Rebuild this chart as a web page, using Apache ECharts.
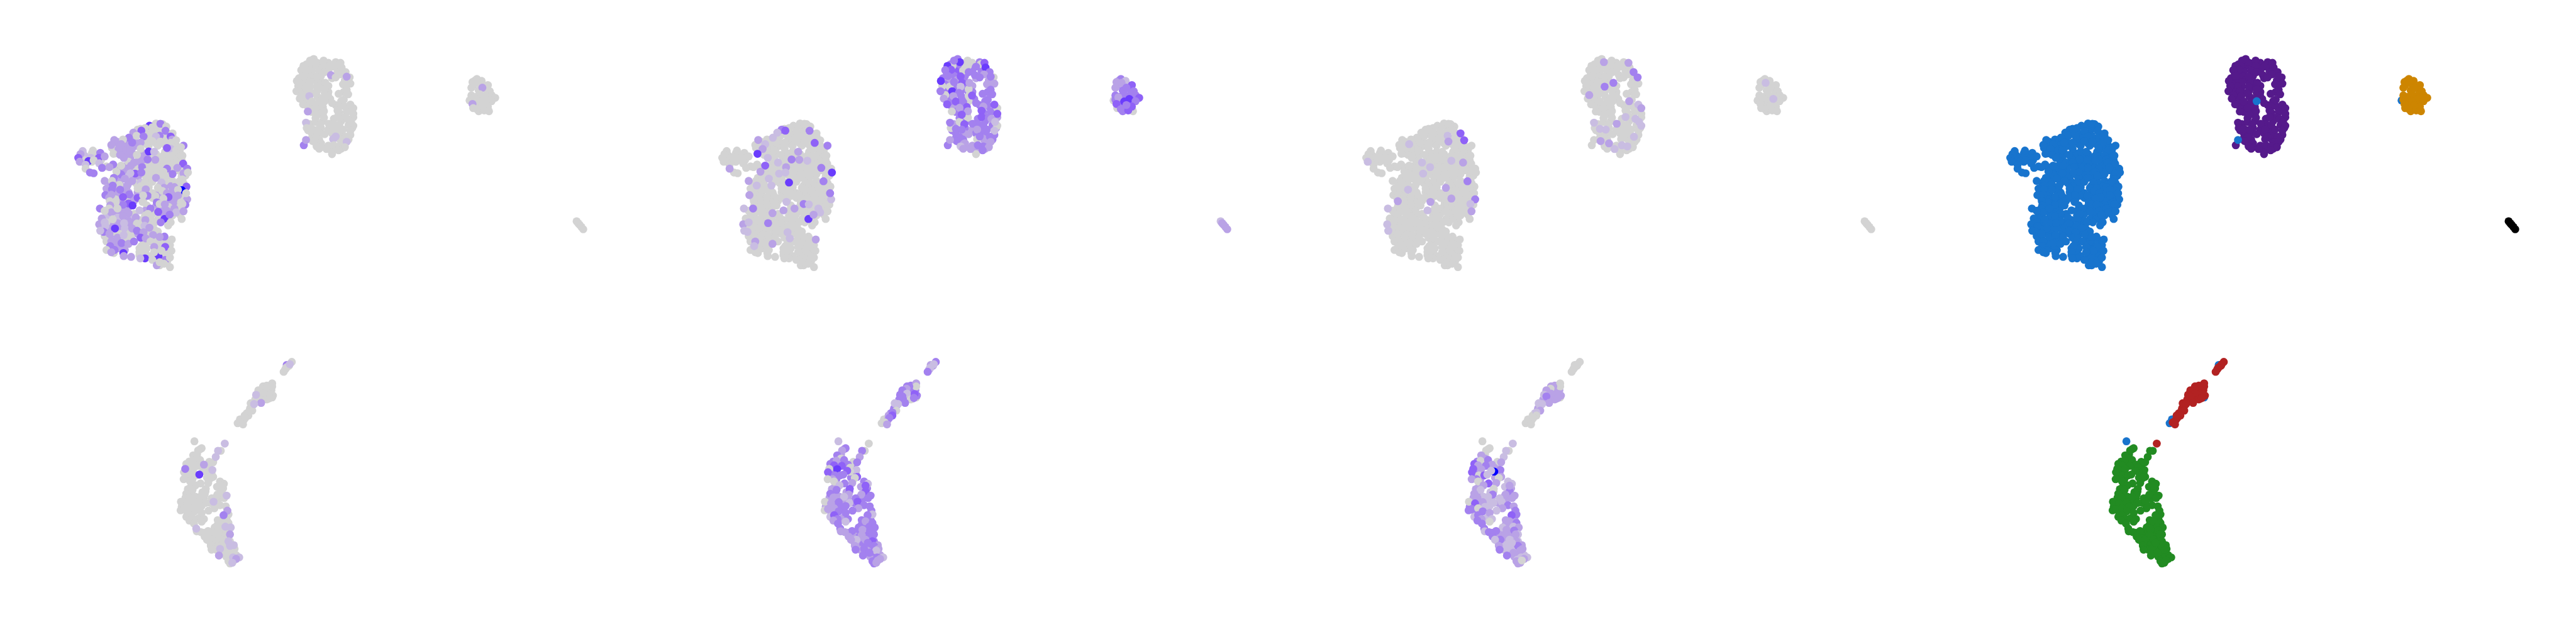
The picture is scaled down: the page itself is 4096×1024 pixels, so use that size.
<!DOCTYPE html>
<html><head><meta charset="utf-8">
<style>html,body{margin:0;padding:0;background:#fff}#c{width:4096px;height:1024px}</style>
<script src="https://cdn.jsdelivr.net/npm/echarts@6/dist/echarts.min.js"></script>
</head><body><div id="c"></div>
<script>
// Each row: umap x, umap y, gene A, gene B, gene C expression level
const blueUnderDeep=[
[190,640,2,0,0],[220,645,2,0,0],[250,650,2,0,0],[275,640,0,0,0],[300,635,0,0,0],[355,650,0,0,0],[215,705,2,0,0],[235,700,2,0,0],[280,710,1,0,0],[330,710,0,0,0],
[225,725,2,0,0],[265,725,2,0,0],[295,720,0,0,0],[335,725,0,0,0],[360,725,0,0,0],[275,755,2,0,0],[300,760,0,0,0],[335,755,0,0,0],[365,755,0,0,0],[215,785,2,0,0],[275,785,0,0,0],[345,780,0,0,0],[370,785,0,0,0],
[215,810,2,0,0],[240,810,2,0,0],[285,810,0,0,0],[310,810,0,0,0],[355,810,0,0,0],[365,815,0,0,0],[210,840,2,0,0],[235,845,2,0,0],[270,845,0,0,0],[285,840,0,0,0],[305,840,0,0,0],[335,845,0,0,0],
[205,870,2,0,0],[250,870,1,0,0],[275,875,0,0,0],[345,880,0,0,0],[190,895,2,0,0],[225,895,2,0,0],[265,895,0,0,0],[330,900,0,0,0],[190,915,2,0,0],[210,920,2,0,0],[280,920,0,0,0],[340,915,2,0,0],[365,915,0,0,0],
[195,955,2,0,0],[225,955,2,0,0],[250,955,2,0,0],[290,960,0,0,0],[310,955,2,0,0],[355,955,2,0,0],[200,985,2,0,0],[225,985,2,0,0],[265,990,0,0,0],[305,985,0,0,0],[350,985,2,0,0],
[205,1010,2,0,0],[240,1010,2,0,0],[335,1010,2,0,0],[355,1010,2,0,0],[205,1045,2,0,0],[225,1050,2,0,0],[300,1045,2,0,0],[325,1050,2,0,0],[360,1045,2,0,0],[185,1070,0,0,0],[210,1070,2,0,0],[290,1075,0,0,0],[320,1070,2,0,0],[350,1075,2,0,0],
[175,1100,2,0,0],[205,1095,2,0,0],[240,1095,0,0,0],[345,1105,0,0,0],[165,1130,0,0,0],[205,1130,2,0,0],[255,1135,0,0,0],[285,1125,0,0,0],[320,1115,0,0,0],[175,1165,2,0,0],[200,1170,2,0,0],[225,1165,2,0,0],[255,1175,0,0,0],[285,1160,0,0,0],
[175,1195,2,0,0],[200,1195,2,0,0],[255,1190,0,0,0],[295,1195,0,0,0],[190,1225,2,0,0],[205,1225,0,0,0],[250,1225,2,0,0],[290,1215,0,0,0],[175,1260,2,0,0],[205,1260,2,0,0],[225,1260,2,0,0],[275,1230,0,0,0],[295,1260,0,0,0],[335,1270,0,0,0],
[185,1290,2,0,0],[265,1290,0,0,0],[310,1295,0,0,0],[195,1320,2,0,0],[255,1320,0,0,0],[320,1320,0,0,0],[255,1365,0,0,0],[305,1355,0,0,0]
];
const blueUnder=[
[300,505,0,0,0],[318,510,0,0,0],[258,540,0,0,0],[310,540,0,0,0],[245,565,0,0,0],[272,565,0,0,0],[305,565,0,0,0],[335,575,0,0,0],
[235,595,1,0,0],[285,590,0,0,0],[325,600,0,0,0],[345,590,0,0,0],[195,625,2,0,0],[218,625,2,0,0],[240,615,2,0,0],[270,615,0,0,0],[325,625,0,0,0],[350,640,0,0,0],
[180,665,0,0,0],[210,660,2,0,0],[240,655,2,0,0],[280,650,0,0,0],[305,650,0,0,0],[325,645,0,0,0],[365,680,0,0,0],[190,700,0,0,0],[215,690,2,0,0],[265,700,2,0,0],[300,705,0,0,0],[325,690,0,0,0],[362,700,0,0,0],
[105,715,1,0,0],[125,700,0,0,0],[140,710,0,0,0],[105,745,0,0,0],[125,755,0,0,0],[150,745,0,0,0],[230,725,2,0,0],[255,735,2,0,0],[285,725,0,0,0],[310,735,0,0,0],[370,745,0,0,0],[225,755,0,0,0],[285,770,0,0,0],[310,770,0,0,0],[340,770,0,0,0],[365,770,0,0,0],
[165,785,0,0,0],[190,790,0,0,0],[220,800,2,0,0],[245,790,0,0,0],[285,795,0,0,0],[320,790,0,0,0],[345,795,0,0,0],[375,800,0,0,0],[200,815,2,0,0],[225,820,2,0,0],[300,825,0,0,0],[335,820,0,0,0],[380,845,0,0,0],
[195,850,2,0,0],[225,850,1,0,0],[250,855,2,0,0],[275,860,0,0,0],[310,860,0,0,0],[370,850,0,0,0],[175,895,2,0,0],[200,885,2,0,0],[245,895,0,0,0],[280,905,0,0,0],[325,880,0,0,0],[375,895,0,0,0],[355,900,0,0,0],
[200,905,0,0,0],[175,950,0,0,0],[215,945,2,0,0],[262,945,1,0,0],[280,950,0,0,0],[310,910,0,0,0],[325,945,0,0,0],[370,960,0,0,0],[345,950,2,0,0],[190,965,2,0,0],[235,990,2,0,0],[290,990,0,0,0],[315,975,2,0,0],[345,1000,2,0,0],[372,1000,0,0,0],
[190,1000,0,0,0],[195,1040,0,0,0],[218,1005,0,0,0],[265,1005,0,0,0],[320,1015,0,0,0],[345,1035,2,0,0],[365,1050,0,0,0],[275,1040,0,0,0],[310,1055,2,0,0],[335,1050,0,0,0],[195,1085,2,0,0],[220,1060,2,0,0],[270,1075,2,0,0],[320,1095,2,0,0],[345,1085,2,0,0],[365,1100,0,0,0],
[165,1110,1,0,0],[195,1120,1,0,0],[225,1110,1,0,0],[270,1105,0,0,0],[290,1095,0,0,0],[330,1125,0,0,0],[165,1150,0,0,0],[195,1155,2,0,0],[235,1150,2,0,0],[280,1150,0,0,0],[305,1130,0,0,0],[160,1195,2,0,0],[190,1215,0,0,0],[215,1190,1,0,0],[270,1195,0,0,0],[230,1220,0,0,0],
[160,1240,0,0,0],[195,1250,2,0,0],[215,1265,0,0,0],[285,1215,0,0,0],[270,1285,0,0,0],[305,1275,0,0,0],[325,1265,0,0,0],[190,1295,2,0,0],[210,1310,2,0,0],[275,1320,0,0,0],[300,1320,0,0,0],[335,1325,0,0,0],[335,1350,0,0,0],
[185,1350,0,0,0],[215,1330,2,0,0],[270,1350,0,0,0],[320,1355,0,0,0],[280,1370,0,0,0],[330,1370,0,0,0],[300,1380,0,0,0],[310,1430,0,0,0],[330,1405,0,0,0]
];
const purpleUnder=[
[730,85,0,3,0],[745,115,0,0,0],[730,130,0,3,0],[790,105,0,3,0],[710,120,0,3,0],[725,165,0,4,0],[770,110,0,0,0],[770,155,0,3,0],[795,165,0,3,0],[810,170,0,3,0],[700,175,0,3,0],[720,195,0,3,0],[750,195,0,3,0],[780,210,0,2,0],[815,225,0,2,0],[825,230,0,2,0],
[690,210,0,3,0],[705,225,0,2,0],[730,220,0,2,0],[750,235,0,3,0],[770,260,0,2,0],[695,250,0,3,0],[720,265,0,3,0],[750,265,0,3,0],[690,280,0,3,0],[705,295,0,3,0],[740,290,0,3,0],[815,255,0,2,0],[760,305,0,3,0],[700,320,0,3,0],[740,330,0,3,0],[760,340,0,3,0],
[812,350,0,3,0],[775,345,0,3,0],[812,300,0,3,0],[770,300,0,3,0],
[700,350,0,3,0],[715,345,0,3,0],[710,385,0,3,0],[735,385,0,3,0],[790,385,0,3,0],[815,395,0,3,0],[830,410,0,2,0],[720,405,0,2,0],[725,430,0,3,0],[745,425,0,3,0],[800,435,0,3,0],[820,430,0,3,0],[838,465,0,2,0],[735,470,0,3,0],[755,450,0,3,0],[785,475,0,3,0],[805,490,0,3,0],[825,515,0,3,0],
[720,510,0,2,0],[755,490,0,3,0],[785,510,0,3,0],[715,550,0,3,0],[750,535,0,3,0],[770,545,0,2,0],[795,550,0,3,0],[835,535,0,2,0],[725,570,0,3,0],[745,565,0,2,0],[780,570,0,3,0],[805,575,0,3,0],[830,580,0,3,0],[725,600,0,3,0],[745,610,0,3,0],[800,605,0,2,0],[825,610,0,3,0],
[735,630,0,2,0],[770,650,0,2,0],[805,630,0,2,0],[750,660,0,2,0],[785,670,0,2,0],[780,690,0,2,0],[805,670,0,2,0]
];
const orangeUnder=[[1170,225,0,2,0],[1185,250,0,3,0],[1165,255,0,2,0],[1195,275,0,3,0],[1180,290,0,3,0],[1205,310,0,3,0],[1175,330,0,3,0],[1195,325,0,3,0],[1160,350,0,3,0],[1210,345,0,3,0],[1175,370,0,3,0],[1200,370,0,3,0],[1172,390,0,3,0],[1195,400,0,3,0],[1180,425,0,3,0]];
const greenUnder=[
[405,710,0,2,0],[380,745,0,2,0],[375,790,0,2,2],[385,745,0,2,0],[370,770,0,3,0],[410,810,0,3,2],[335,790,0,3,3],[455,810,0,3,2],[365,815,0,3,2],[320,830,0,3,3],[345,850,0,3,2],[465,830,0,3,2],[470,860,0,3,2],[320,875,0,3,3],[355,905,0,3,2],[450,895,0,3,2],[480,870,0,3,2],
[535,945,0,3,1],[555,965,0,3,2],[360,945,0,2,2],[345,955,0,2,2],[350,1000,0,2,2],[420,990,0,2,1],[440,985,0,3,1],[540,1005,0,3,2],[530,1030,0,3,2],[310,1025,0,2,2],[350,1020,0,2,2],[375,1020,0,2,1],[430,1030,0,2,1],[410,1050,0,2,1],[300,1050,0,2,2],[345,1060,0,3,2],[505,1025,0,3,2],[475,1060,0,3,2],
[300,1075,0,2,2],[320,1090,0,2,2],[360,1085,0,3,2],[285,1085,0,2,3],[400,1100,0,3,2],[345,1120,0,3,2],[320,1120,0,2,3],[395,1160,0,2,1],[350,1150,0,3,2],[540,1205,0,3,1],[520,1200,0,3,2],[580,1175,0,3,2],[590,1215,0,3,2],[480,1250,0,3,2],[500,1250,0,3,2],[545,1255,0,3,2],[565,1270,0,3,2],[590,1240,0,3,2],
[470,1275,0,2,2],[500,1285,0,3,2],[430,1255,0,2,3],[460,1285,0,2,2],[515,1310,0,2,2],[525,1290,0,2,2],[470,1315,0,2,2],[500,1335,0,2,1],[530,1330,0,3,1],[575,1300,0,3,1],[570,1345,0,3,1],[600,1310,0,3,1],[590,1365,0,3,1],[510,1365,0,2,1],[555,1370,0,2,1],[590,1400,0,2,2],[575,1410,0,2,2],[605,1405,0,3,2],[640,1400,0,2,1],[600,1455,0,3,2],[640,1405,0,2,1]
];
const redUnder=[[815,300,0,3,2],[840,295,0,3,2],[855,310,0,3,2],[870,325,0,3,2],[800,335,0,3,2],[830,330,0,3,2],[850,340,0,3,2],[780,345,0,3,2],[805,370,0,3,2],[830,365,0,3,2],[880,360,0,3,2],[790,385,0,3,2],[815,385,0,3,2],[850,380,0,3,2],[765,385,0,3,2],[730,445,0,3,2],[710,475,0,3,1],[695,490,0,2,0],[690,520,0,2,0],[680,535,0,2,0],[745,430,0,3,1],[985,165,0,2,0],[960,190,0,2,0]];

const blueCells=[
[312,507,3,0,0],[282,520,5,0,0],[270,535,0,0,0],[290,530,0,0,0],[328,525,0,0,0],
[250,545,0,3,0],[260,552,4,4,0],[290,555,0,0,0],[238,565,2,1,0],[326,553,3,3,0],[345,570,0,0,4],
[247,585,0,0,0],[266,590,3,0,0],[226,598,3,1,0],[310,585,3,0,1],[300,590,1,0,0],[340,590,4,0,0],[210,610,0,0,0],[186,613,2,2,0],
[344,610,2,0,0],[355,615,0,0,4],[290,620,0,0,0],[312,623,0,0,2],[235,630,3,0,0],[258,630,2,0,0],[205,640,2,1,1],[178,645,2,0,0],[340,632,0,4,0],[375,650,3,3,0],
[258,670,0,0,0],[230,680,2,0,0],[198,672,2,2,0],[280,688,5,0,0],[295,690,1,2,0],[340,670,1,0,0],[355,680,0,0,0],[368,660,0,0,0],[330,665,4,0,0],
[100,685,1,0,0],[128,682,0,0,0],[148,697,3,0,0],[94,705,2,0,0],[122,730,1,0,0],[88,730,4,0,0],[144,730,4,0,0],[116,750,5,0,0],[92,755,2,0,1],[130,745,0,0,0],[160,720,2,0,0],[108,775,1,0,0],[145,765,1,0,0],
[184,703,0,5,0],[202,710,2,0,0],[212,730,2,1,0],[248,710,0,0,0],[320,715,0,0,0],[345,715,0,0,0],[372,715,0,0,0],[330,740,0,0,0],[350,740,0,0,0],[298,742,2,2,0],[277,740,3,3,0],[320,748,0,1,1],[352,760,0,0,2],
[240,760,2,1,1],[258,760,2,0,0],[374,767,4,0,0],[183,773,3,0,0],[205,780,0,4,0],[330,800,3,0,0],[358,795,2,3,0],[153,795,3,0,0],[262,790,3,2,1],[300,795,0,0,0],[385,800,3,0,0],[173,790,2,0,0],[232,780,2,0,0],
[108,800,0,2,0],[130,830,3,0,0],[120,825,3,0,0],[205,838,3,0,0],[243,832,4,1,1],[275,820,0,0,0],[260,825,3,1,0],[230,830,1,0,0],[192,820,0,2,0],[375,830,2,0,0],[387,825,0,5,0],[320,820,0,0,0],[345,835,3,0,0],
[160,880,2,2,0],[185,860,3,0,0],[290,885,0,0,0],[258,890,1,0,0],[372,870,0,0,0],[215,865,2,1,0],[325,845,0,0,0],[364,882,0,3,3],[300,860,2,0,0],[180,880,0,0,0],[315,890,1,0,0],[235,880,2,0,0],[270,890,0,5,0],
[182,910,3,1,0],[222,910,2,1,0],[258,915,0,0,0],[383,917,4,0,0],[350,920,2,0,0],[322,925,2,0,0],[165,930,2,0,0],[272,935,2,0,0],[305,925,0,0,2],[370,940,6,0,0],[360,938,0,0,0],[317,945,0,0,0],[180,935,3,0,0],[202,937,3,0,1],[250,930,0,0,0],[330,960,2,0,0],
[162,972,3,2,0],[178,970,2,0,0],[227,968,3,0,0],[277,977,3,0,0],[250,990,4,0,0],[334,985,4,0,0],[210,985,4,0,0],[298,978,0,0,0],[385,1000,2,1,3],[382,960,0,3,0],[172,990,2,0,0],[265,975,0,0,0],[360,975,2,0,0],[320,995,0,0,2],
[225,1027,4,0,0],[236,1040,5,0,0],[302,1020,3,0,0],[310,1030,0,3,0],[324,1033,2,1,0],[368,1020,0,0,0],[210,1035,3,0,0],[190,1020,0,0,0],[174,1012,0,0,2],[380,1035,3,0,0],[263,1017,0,1,2],[350,1060,2,1,0],[372,1030,0,0,1],[175,1040,2,0,0],[285,1060,3,2,0],
[147,1060,3,1,1],[172,1060,0,3,0],[178,1085,2,0,0],[255,1072,1,2,1],[306,1082,4,0,0],[355,1085,1,1,0],[375,1078,2,0,2],[225,1090,2,2,0],[160,1075,0,0,0],[195,1060,0,0,0],[330,1075,2,0,0],[278,1095,0,0,0],
[210,1110,2,0,0],[152,1125,2,0,0],[182,1130,0,0,0],[245,1118,2,0,0],[271,1135,2,0,0],[323,1128,5,5,0],[337,1100,3,2,0],[370,1128,0,0,0],[297,1150,0,0,0],[340,1150,0,0,0],[225,1140,2,0,0],
[145,1163,2,2,1],[160,1150,1,1,0],[162,1175,1,0,0],[188,1190,5,0,0],[248,1158,0,0,0],[213,1155,1,3,0],[269,1172,1,0,0],[313,1150,3,0,0],[333,1170,0,0,0],[235,1190,2,0,0],
[157,1212,3,1,0],[173,1225,2,0,0],[148,1205,1,1,1],[248,1205,3,0,0],[282,1185,2,0,0],[305,1210,0,0,0],[266,1215,2,1,0],[212,1233,1,0,0],[232,1245,0,0,0],
[323,1243,3,0,0],[292,1232,2,0,0],[258,1250,4,0,0],[343,1262,0,2,0],[272,1255,2,1,0],[310,1245,2,0,0],[165,1275,0,0,0],[178,1275,2,2,0],
[206,1285,3,0,0],[225,1290,2,2,0],[285,1275,0,0,0],[338,1300,0,0,0],[175,1305,3,1,0],[240,1275,3,0,0],[260,1305,0,0,0],[295,1310,2,0,0],[325,1310,4,0,0],
[187,1330,3,0,0],[165,1330,0,0,0],[211,1350,5,0,0],[232,1375,2,0,0],[307,1372,5,0,0],[342,1335,0,0,0],[315,1335,0,0,0],[255,1345,0,0,0],[295,1345,0,0,0],[178,1345,2,0,0],
[270,1385,5,0,0],[257,1385,1,0,0],[290,1395,0,0,0],[325,1395,3,0,0],[338,1380,0,0,0],[302,1430,2,0,0],[338,1442,0,0,0],[310,1410,0,0,0],[322,1420,0,0,0],[212,1370,2,0,0]
];
const purpleCells=[
[736,105,0,5,2],[720,95,0,3,0],[757,95,0,0,0],[758,130,0,0,0],[716,130,0,0,0],[702,130,0,5,0],[712,155,0,4,0],[696,157,0,3,0],[745,160,0,0,0],
[793,118,0,0,0],[803,110,0,4,2],[780,135,0,3,0],[806,140,0,5,0],[760,170,0,3,0],[777,190,2,3,0],[817,170,0,3,3],[802,185,0,2,0],[790,205,0,3,0],[738,198,0,4,0],[703,195,0,3,0],
[828,205,0,0,3],[820,200,2,3,0],[830,245,0,2,0],[810,250,0,2,0],[820,285,0,3,0],[742,240,0,4,0],[762,240,0,2,3],[720,235,0,3,0],[684,228,0,5,0],[708,265,0,0,0],[688,262,0,0,0],[738,265,0,1,3],[760,282,0,0,0],
[683,295,0,3,0],[715,295,0,5,0],[733,305,0,3,0],[798,312,0,3,0],[824,315,0,3,0],[696,320,0,0,2],[718,327,1,2,0],[769,323,0,4,0],[692,343,0,2,0],[760,325,0,0,0],
[725,362,0,4,0],[745,365,0,3,0],[805,360,0,3,2],[830,382,0,4,1],[780,372,0,3,0],[701,380,0,4,0],[755,398,0,4,0],[800,395,0,2,0],[838,405,0,0,2],[735,403,0,2,0],
[714,427,2,0,0],[758,425,0,2,0],[795,422,0,4,0],[838,442,0,4,0],[741,448,0,4,0],[758,468,0,0,0],[795,463,0,4,1],[815,465,0,3,0],[822,475,0,2,1],
[709,500,1,3,1],[832,495,0,1,1],[735,495,0,0,0],[771,507,0,3,2],[748,510,0,4,0],[800,515,0,3,0],[838,520,0,0,1],[711,535,0,0,0],[725,540,0,3,1],[741,545,0,3,1],[783,545,0,2,0],[810,545,0,3,0],[830,553,0,1,0],
[760,575,0,2,0],[735,595,0,3,0],[790,590,1,3,0],[783,607,1,0,0],[818,592,0,3,1],[727,620,0,3,2],[703,647,3,3,0],[750,635,0,2,2],[785,647,0,3,1],[800,655,0,3,1],[820,625,1,2,0],[738,655,0,1,0],
[765,672,0,2,1],[815,660,0,2,0],[745,670,0,2,0],[798,680,0,3,0],[780,705,0,0,0]
];
const orangeCells=[
[1175,215,0,3,0],[1163,235,0,2,0],[1188,228,0,1,0],[1177,240,0,2,1],[1205,255,0,4,0],[1190,272,2,3,0],[1160,272,0,2,0],[1210,295,0,3,0],[1183,315,0,3,0],[1160,322,0,3,0],[1215,320,0,3,0],[1225,338,0,4,0],
[1168,335,0,2,0],[1198,345,0,5,1],[1184,362,0,5,0],[1163,378,2,4,0],[1215,360,0,3,0],[1205,395,0,4,0],[1175,412,0,3,0],[1165,405,0,0,0],[1195,420,0,4,0],[1208,425,0,0,0],[1190,385,0,3,0]
];
const blackCells=[[1447,1143,0,1,0],[1451,1155,0,2,0],[1455,1165,0,2,0],[1460,1180,0,2,0],[1465,1195,0,2,0]];
const topBlueStrays=[[760,360,0,0,0],[709,613,2,2,0]];
const topEarlyBlueStrays=[[1155,355,0,0,0]];
const lowerBlueStrays=[[368,658,0,1,0],[970,160,3,2,0],[665,515,0,0,0],[650,540,0,0,0],[875,372,0,0,0],[700,500,0,0,2]];
const greenCells=[
[415,703,0,3,0],[392,718,0,2,0],[540,720,0,0,0],[522,720,1,3,1],[507,760,1,2,1],[360,750,0,3,2],[385,770,0,0,2],[355,785,0,2,0],[405,780,0,3,3],[465,792,0,0,0],[490,795,0,3,2],
[315,805,0,3,4],[430,810,2,3,2],[390,818,0,4,3],[340,815,0,4,2],[360,840,0,5,2],[445,830,0,0,2],[485,845,1,1,3],[308,838,3,0,4],[445,856,0,0,6],[300,860,0,4,4],[425,850,0,4,1],[345,880,0,3,0],[380,880,0,3,4],[400,875,5,3,1],
[330,905,0,2,3],[298,905,0,0,2],[490,890,0,4,2],[475,897,0,0,0],[408,933,0,3,4],[458,930,0,2,2],[340,920,0,0,0],[535,920,0,3,1],[560,935,0,1,1],[515,955,0,2,1],[545,985,0,4,3],[545,947,0,4,2],
[375,945,0,1,2],[325,970,0,2,2],[356,975,0,3,1],[442,968,0,4,0],[435,1005,0,2,3],[315,1000,0,3,2],[405,1020,0,1,1],[518,1005,0,2,2],[578,1012,1,3,2],[562,1028,0,3,2],[335,1025,0,2,2],[480,1030,0,3,1],[493,1052,1,4,1],
[280,1052,0,0,0],[370,1055,0,3,2],[320,1063,0,2,4],[440,1060,0,1,1],[535,1075,0,3,3],[415,1080,0,3,1],[385,1085,0,3,1],[572,1082,0,3,2],[278,1108,0,0,3],[300,1100,0,2,3],[340,1095,0,2,0],[498,1095,0,2,2],[460,1110,0,3,1],
[370,1115,0,3,3],[415,1125,0,3,2],[583,1110,2,3,3],[590,1135,0,1,3],[558,1140,3,3,4],[315,1150,0,1,1],[340,1140,0,4,3],[362,1165,0,3,2],[335,1175,0,2,3],[430,1165,0,3,1],[415,1182,0,1,0],[520,1172,0,3,2],[545,1180,0,2,2],[590,1190,0,3,3],
[365,1195,0,3,3],[570,1215,1,3,1],[605,1220,1,3,2],[380,1227,1,3,3],[500,1220,0,3,1],[525,1235,0,2,2],[575,1240,0,3,3],[457,1243,0,3,3],[383,1245,0,2,1],[600,1265,2,3,1],[410,1250,0,2,3],[520,1270,0,2,2],
[435,1280,0,2,3],[585,1265,0,3,2],[485,1300,0,1,3],[545,1300,0,2,1],[590,1310,1,4,2],[450,1300,0,2,1],[625,1335,1,2,2],[600,1340,1,3,3],[475,1340,0,2,2],[535,1360,1,3,1],[480,1365,0,3,3],[560,1320,0,3,1],
[630,1360,0,2,2],[615,1370,0,1,2],[570,1385,0,3,2],[528,1403,2,3,3],[595,1430,0,2,1],[620,1415,1,3,1],[660,1415,1,1,1],[640,1425,2,2,2],[590,1440,0,3,2],[615,1450,1,2,2],[625,1435,0,2,0]
];
const redCells=[
[1003,140,0,3,0],[970,175,0,2,0],[990,155,1,1,0],[965,180,0,1,0],[950,205,0,3,0],[875,280,0,2,0],[875,300,0,0,0],[830,300,0,3,2],[812,315,0,2,0],[785,325,0,3,2],[815,347,0,1,2],[865,350,0,4,2],[770,355,1,3,1],[785,365,0,3,3],
[840,385,0,0,2],[860,375,0,3,2],[803,408,2,3,2],[735,410,0,1,1],[757,415,1,1,1],[745,458,0,0,2],[720,470,0,3,1],[720,490,0,4,0],[700,505,0,3,0],[670,535,0,0,0],[685,548,0,2,0],[566,673,1,0,1]
];
const expressionRamp=['#D3D3D3','#C9BDE2','#B9A2E6','#A381EF','#8F62F7','#6A3CFD','#0000FF'];
const clusterColors={blue:'#1874CD',purple:'#551A8B',orange:'#CD8500',black:'#000000',green:'#228B22',red:'#B22222'};
const upperUnder=[['blue',topEarlyBlueStrays],['blue',blueUnderDeep],['blue',blueUnder],['purple',purpleUnder],['orange',orangeUnder]];
const upperGroups=[['blue',blueCells],['purple',purpleCells],['orange',orangeCells],['black',blackCells],['blue',topBlueStrays]];
const lowerUnder=[['blue',lowerBlueStrays],['green',greenUnder],['red',redUnder]];
const lowerGroups=[['green',greenCells],['red',redCells]];

const S=4096/5600, dotSize=17.4*S;
const rows=[
 {under:upperUnder,groups:upperGroups,xMax:1568,yMax:1560,left:100,top:100,w:1250,h:520,greyFirst:[false,true,true]},
 {under:lowerUnder,groups:lowerGroups,xMax:1200,yMax:1590,left:300,top:740,w:400,h:530,greyFirst:[true,false,false]}
];
const grids=[],xAxes=[],yAxes=[],series=[];
function layer(groups,k,sortGrey){
  let pts=[];
  groups.forEach(([name,arr])=>arr.forEach(p=>{
    pts.push({x:p[0],y:p[1],color:k===3?clusterColors[name]:expressionRamp[p[2+k]],v:k===3?1:p[2+k]});
  }));
  return sortGrey?pts.filter(p=>p.v===0).concat(pts.filter(p=>p.v>0)):pts;
}
rows.forEach(r=>{
  for(let k=0;k<4;k++){
    const idx=grids.length;
    grids.push({left:(r.left+1400*k)*S,top:r.top*S,width:r.w*S,height:r.h*S,containLabel:false,show:false});
    xAxes.push({type:'value',gridIndex:idx,min:0,max:r.xMax,show:false,splitLine:{show:false}});
    yAxes.push({type:'value',gridIndex:idx,min:0,max:r.yMax,inverse:true,show:false,splitLine:{show:false}});
    const grey=k<3&&r.greyFirst[k];
    const pts=layer(r.under,k,grey).concat(layer(r.groups,k,grey));
    series.push({type:'scatter',xAxisIndex:idx,yAxisIndex:idx,symbol:'circle',symbolSize:dotSize,silent:true,large:false,progressive:0,animation:false,
      data:pts.map(p=>({value:[p.x,p.y],itemStyle:{color:p.color,opacity:1}}))});
  }
});
const chart=echarts.init(document.getElementById('c'),null,{renderer:'canvas',width:4096,height:1024});
chart.setOption({animation:false,backgroundColor:'#ffffff',grid:grids,xAxis:xAxes,yAxis:yAxes,series});
</script></body></html>
